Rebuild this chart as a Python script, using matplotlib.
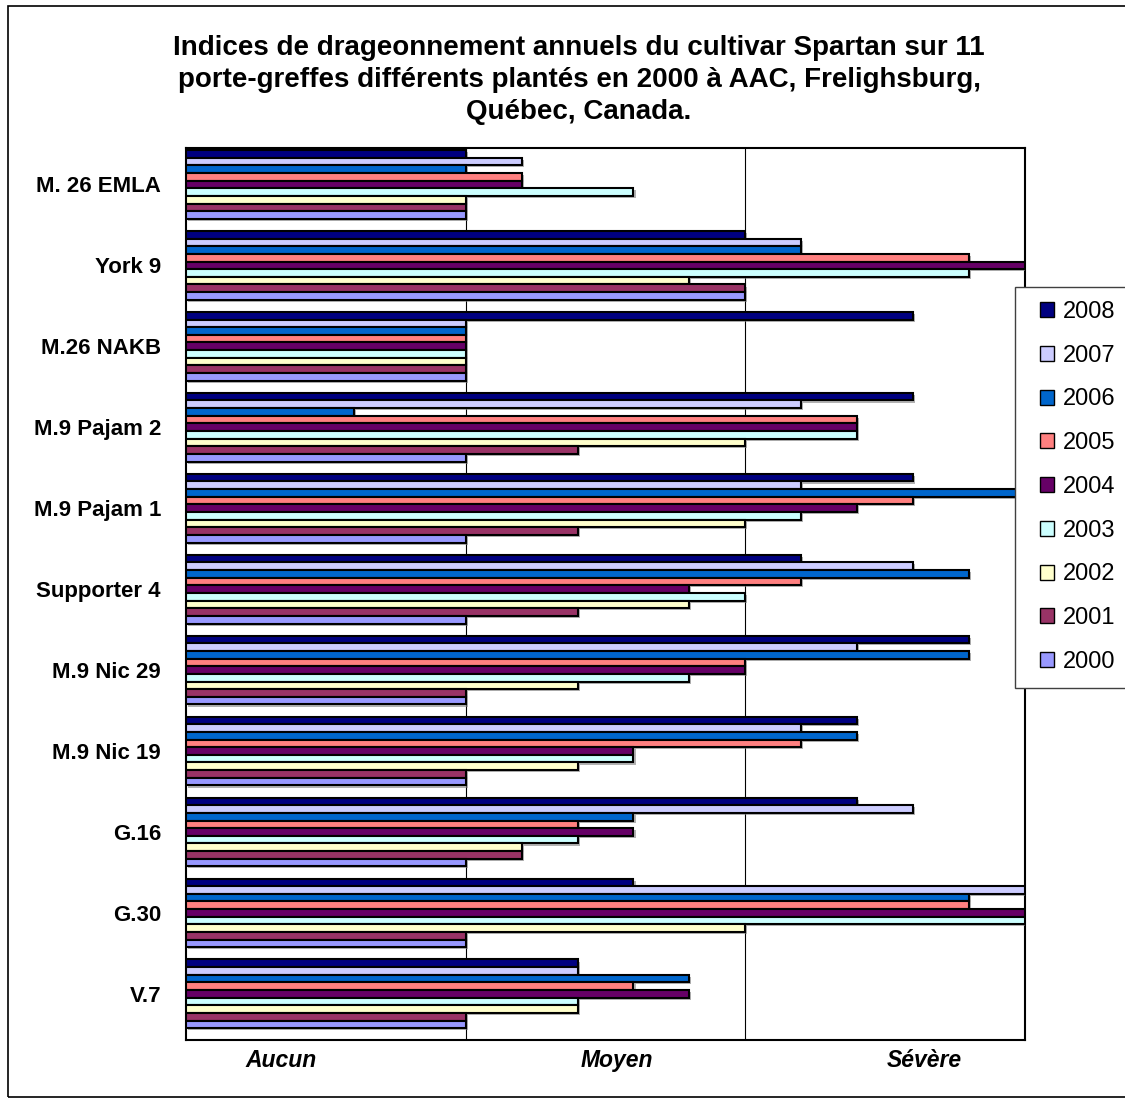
import matplotlib
matplotlib.use("Agg")
from matplotlib import pyplot as plt
from matplotlib import patheffects as pe
from matplotlib.patches import Rectangle
import numpy as np

plt.rcParams['font.family'] = ['Liberation Sans', 'DejaVu Sans']

porte_greffes = ["M. 26 EMLA", "York 9", "M.26 NAKB", "M.9 Pajam 2", "M.9 Pajam 1",
                 "Supporter 4", "M.9 Nic 29", "M.9 Nic 19", "G.16", "G.30", "V.7"]

annees = ["2008", "2007", "2006", "2005", "2004", "2003", "2002", "2001", "2000"]

v_2008 = [1.0, 2.0, 2.6, 2.6, 2.6, 2.2, 2.8, 2.4, 2.4, 1.6, 1.4]
v_2007 = [1.2, 2.2, 1.0, 2.2, 2.2, 2.6, 2.4, 2.2, 2.6, 3.0, 1.4]
v_2006 = [1.0, 2.2, 1.0, 0.6, 3.0, 2.8, 2.8, 2.4, 1.6, 2.8, 1.8]
v_2005 = [1.2, 2.8, 1.0, 2.4, 2.6, 2.2, 2.0, 2.2, 1.4, 2.8, 1.6]
v_2004 = [1.2, 3.0, 1.0, 2.4, 2.4, 1.8, 2.0, 1.6, 1.6, 3.0, 1.8]
v_2003 = [1.6, 2.8, 1.0, 2.4, 2.2, 2.0, 1.8, 1.6, 1.4, 3.0, 1.4]
v_2002 = [1.0, 1.8, 1.0, 2.0, 2.0, 1.8, 1.4, 1.4, 1.2, 2.0, 1.4]
v_2001 = [1.0, 2.0, 1.0, 1.4, 1.4, 1.4, 1.0, 1.0, 1.2, 1.0, 1.0]
v_2000 = [1.0, 2.0, 1.0, 1.0, 1.0, 1.0, 1.0, 1.0, 1.0, 1.0, 1.0]

series = [v_2008, v_2007, v_2006, v_2005, v_2004, v_2003, v_2002, v_2001, v_2000]
couleurs = ["#000080", "#CCCCFF", "#0066CC", "#FF8080", "#660066",
            "#CCFFFF", "#FFFFCC", "#993366", "#9999FF"]

niveaux = ["Aucun", "Moyen", "Sévère"]
pos_niveaux = [0.34, 1.54, 2.64]

W, H = 1125, 1101
fig = plt.figure(figsize=(W / 100, H / 100), dpi=100)
ax = fig.add_axes([186 / W, 1 - 1040 / H, (1025 - 186) / W, (1040 - 148) / H])

n = len(annees)
bar_h = 0.85 / n
y = np.arange(len(porte_greffes))
ombre = [pe.SimplePatchShadow(offset=(1.5, -1.5), shadow_rgbFace='0.5', alpha=0.6), pe.Normal()]

for k in range(n):
    pos = y - 0.425 + bar_h * (k + 0.5)
    ax.barh(pos, series[k], height=bar_h, color=couleurs[k], edgecolor="black",
            linewidth=1.5, label=annees[k], path_effects=ombre, zorder=3)

ax.set_xlim(0, 3)
ax.set_ylim(10.57, -0.45)
ax.set_yticks(y)
ax.set_yticklabels(porte_greffes, fontsize=16, fontweight="bold")
ax.tick_params(axis="y", length=0, pad=18)
ax.set_xticks([])
for g in [1, 2]:
    ax.axvline(g, color="black", linewidth=0.8, zorder=1)
for s in ax.spines.values():
    s.set_linewidth(1.5)
    s.set_color("black")

for lab, p in zip(niveaux, pos_niveaux):
    ax.text(p, -0.0235, lab, transform=ax.get_xaxis_transform(), ha="center", va="center",
            fontsize=16.5, fontweight="bold", fontstyle="italic")

fig.text(579 / W, 1 - 80 / H,
         "Indices de drageonnement annuels du cultivar Spartan sur 11\n"
         "porte-greffes différents plantés en 2000 à AAC, Frelighsburg,\n"
         "Québec, Canada.",
         ha="center", va="center", fontsize=20, fontweight="bold", linespacing=1.28)

# cadre de la légende
fig.patches.append(Rectangle((1015 / W, 1 - 688 / H), 0.2, (688 - 287) / H,
                             transform=fig.transFigure, facecolor="white",
                             edgecolor="0.25", linewidth=1.0, zorder=5))

leg = fig.legend(loc="upper left", bbox_to_anchor=(1040 / W, 1 - 301 / H),
                 bbox_transform=fig.transFigure, borderaxespad=0, borderpad=0,
                 frameon=False, fontsize=17, labelspacing=0.92,
                 handlelength=0.6, handleheight=0.6, handletextpad=0.35)
leg.set_zorder(6)
for h in leg.legend_handles:
    h.set_path_effects([])
    h.set_linewidth(1.0)

fig.patches.append(Rectangle((8 / W, 4 / H), 1.0, 1 - 10 / H, transform=fig.transFigure,
                             fill=False, edgecolor="black", linewidth=1.2))

fig.savefig("out.png", dpi=100)
